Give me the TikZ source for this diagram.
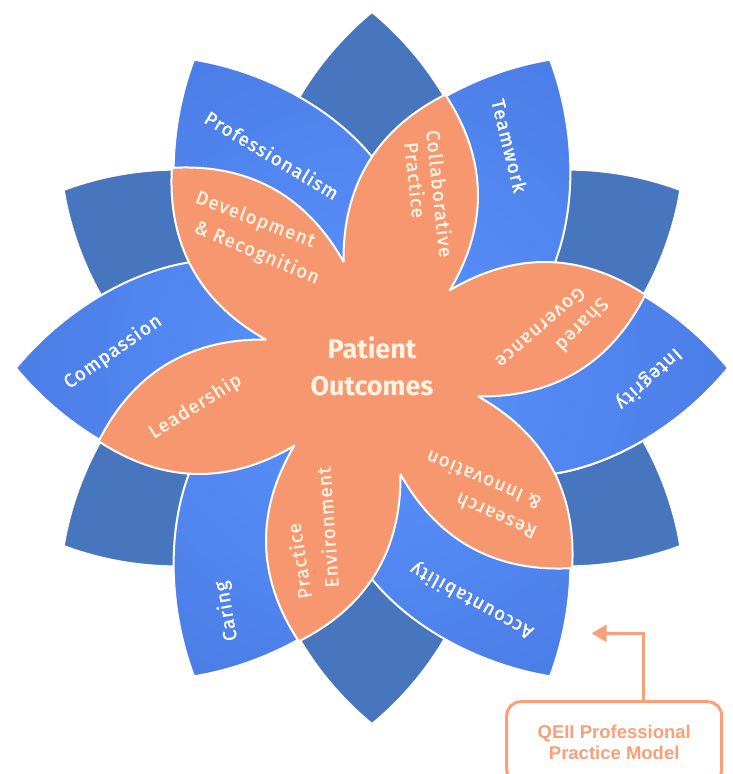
\documentclass[tikz,border=0pt]{standalone}
\usepackage{fontspec}
\setmainfont{Fira Sans}
\newfontfamily\labf[LetterSpace=6,FakeBold=1.2]{Fira Sans}
\newfontfamily\calf{Liberation Sans}
\usetikzlibrary{arrows.meta}
\definecolor{darkb}{RGB}{72,118,190}
\definecolor{bIn}{RGB}{92,148,255}
\definecolor{bOut}{RGB}{58,102,205}
\definecolor{petal}{RGB}{247,151,111}
\definecolor{cream}{RGB}{255,243,228}
\definecolor{callout}{RGB}{249,160,122}
\def\lensp{(0,0) .. controls (80,175) and (266,110) .. (356,0) .. controls (266,-110) and (80,-175) .. (0,0) -- cycle}
\begin{document}
\begin{tikzpicture}[x=1pt,y=1pt,
  whiteline/.style={draw=white, line width=2pt, line join=round},
  bluelab/.style={font=\labf\fontsize{19}{22}\selectfont, text=white, inner sep=0pt},
  orlab/.style={font=\labf\fontsize{19}{22}\selectfont, text=cream, inner sep=0pt},
  arrowst/.style={draw=callout, line width=2.5pt, -{Triangle[length=15pt,width=17pt]}}
]
\useasboundingbox (-372,-406) rectangle (361,368);
\clip (-372,-406) rectangle (361,368);
% dark blue lenses
\foreach \a in {30,90,...,330} {
  \fill[darkb, rotate=\a] \lensp;
  \draw[whiteline, rotate=\a] \lensp;
}
% blue lenses
\foreach \a in {0,60,...,300} {
  \begin{scope}
    \clip[rotate=\a] \lensp;
    \shade[inner color=bIn, outer color=bOut] (0,0) circle (720);
  \end{scope}
  \draw[whiteline, rotate=\a] \lensp;
}
% lens 0 lies above lens 300 near -30 degrees
\begin{scope}
  \clip (0,0) -- (-55:420) -- (-8:420) -- cycle;
  \begin{scope}
    \clip \lensp;
    \shade[inner color=bIn, outer color=bOut] (0,0) circle (720);
  \end{scope}
  \draw[whiteline] \lensp;
\end{scope}
% orange flower
\path[whiteline, fill=petal]
  (-15:110) to[bend right=32] (15:283) to[bend right=32] (45:110)
  to[bend right=32] (75:283) to[bend right=32] (105:110)
  to[bend right=32] (135:283) to[bend right=32] (165:110)
  to[bend right=32] (195:283) to[bend right=32] (225:110)
  to[bend right=32] (255:283) to[bend right=32] (285:110)
  to[bend right=32] (315:283) to[bend right=32] (345:110) -- cycle;
% blue labels
\node[bluelab, rotate=-31] (prof) at (-100,213) {Professionalism};
\node[bluelab, rotate=-76] (team) at (137.3,222.3) {Teamwork};
\node[bluelab, rotate=222] (integ) at (276.5,-10.5) {Integrity};
\node[bluelab, rotate=151] (acc) at (100,-232) {Accountability};
\node[bluelab, rotate=100] (car) at (-145.3,-243) {Caring};
\node[bluelab, rotate=35] (comp) at (-259,16) {Compassion};
% orange labels
\node[orlab, rotate=-84] (col1) at (68,174.5) {Collaborative};
\node[orlab, rotate=-84] (col2) at (43.5,188) {Practice};
\node[orlab, rotate=-21] (dev1) at (-117,148) {Development};
\node[orlab, rotate=-23] (dev2) at (-115.3,115) {\& Recognition};
\node[orlab, rotate=226] (sg1) at (210.5,43) {Shared};
\node[orlab, rotate=221] (sg2) at (168.5,40.3) {Governance};
\node[orlab, rotate=156] (ri1) at (124,-148) {Research};
\node[orlab, rotate=157] (ri2) at (111.5,-112.5) {\& Innovation};
\node[orlab, rotate=99] (pe1) at (-73,-193) {Practice};
\node[orlab, rotate=94] (pe2) at (-44.7,-159.3) {Environment};
\node[orlab, rotate=32] (lead) at (-176.5,-38.5) {Leadership};
\node[font=\bfseries\fontsize{27}{37}\selectfont, text=cream, align=center, inner sep=0pt] (title) at (0,1.3) {Patient\\Outcomes};
% callout
\node[draw=callout, line width=3pt, rounded corners=14pt, fill=white,
  minimum width=215pt, minimum height=81.6pt, inner sep=0pt, align=center,
  font=\calf\bfseries\fontsize{18.5}{21.6}\selectfont, text=callout] (box) at (242.2,-374.5) {QEII Professional\\Practice Model};
\coordinate (arrtip) at (219.7,-265.3);
\draw[arrowst] ([xshift=29.1pt]box.north) |- (arrtip);
\end{tikzpicture}
\end{document}
